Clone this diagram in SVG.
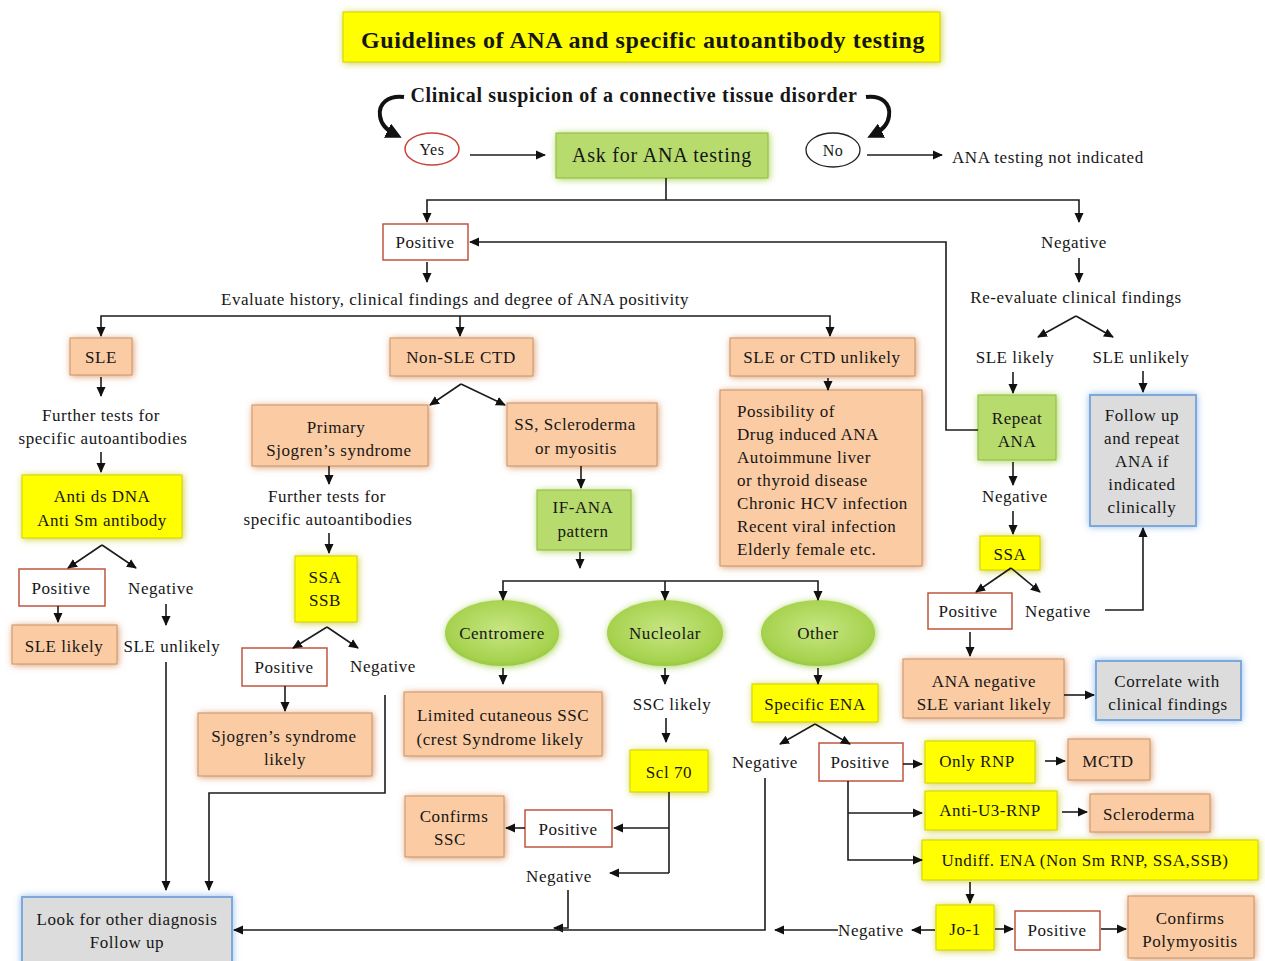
<svg xmlns="http://www.w3.org/2000/svg" width="1265" height="961" viewBox="0 0 1265 961">
<defs>
<style>
.t{font-family:"Liberation Serif","Times New Roman",serif;font-size:17px;fill:#161616;text-anchor:middle;letter-spacing:0.55px}
.l{text-anchor:start}
.or{fill:#FBCBA3;stroke:#C9936B;stroke-width:1;filter:url(#gO)}
.ye{fill:#FFFF00;stroke:#D2D200;stroke-width:1;filter:url(#gY)}
.gr{fill:#B7DB6C;stroke:#8DBB3C;stroke-width:1;filter:url(#gG)}
.gy{fill:#DCDCDC;stroke:#7FA8DA;stroke-width:2;filter:url(#gB)}
.pb{fill:#fff;stroke:#C0553F;stroke-width:1.5}
.el{fill:url(#eg);filter:url(#gG)}
.c{fill:none;stroke:#1c1c1c;stroke-width:1.6}
.a{marker-end:url(#ah)}
.cv{fill:none;stroke:#111;stroke-width:4;marker-end:url(#ahb)}
</style>
<marker id="ah" viewBox="0 0 10 10" refX="9" refY="5" markerWidth="10" markerHeight="10" markerUnits="userSpaceOnUse" orient="auto"><path d="M0,0.5 L10,5 L0,9.5 z" fill="#111"/></marker>
<marker id="ahb" viewBox="0 0 10 10" refX="6" refY="5" markerWidth="16" markerHeight="16" markerUnits="userSpaceOnUse" orient="auto"><path d="M0,0 L10,5 L0,10 z" fill="#111"/></marker>
<radialGradient id="eg" cx="50%" cy="45%" r="60%"><stop offset="0" stop-color="#C7E682"/><stop offset="0.8" stop-color="#A6D24E"/><stop offset="1" stop-color="#8EC23A"/></radialGradient>
<filter id="gO" x="-25%" y="-30%" width="150%" height="160%"><feGaussianBlur in="SourceAlpha" stdDeviation="3.5"/><feOffset dx="1" dy="1" result="b"/><feFlood flood-color="#D68A50" flood-opacity="0.85"/><feComposite in2="b" operator="in"/><feMerge><feMergeNode/><feMergeNode in="SourceGraphic"/></feMerge></filter>
<filter id="gY" x="-25%" y="-30%" width="150%" height="160%"><feGaussianBlur in="SourceAlpha" stdDeviation="3.5"/><feOffset dx="1" dy="1" result="b"/><feFlood flood-color="#C8C820" flood-opacity="0.85"/><feComposite in2="b" operator="in"/><feMerge><feMergeNode/><feMergeNode in="SourceGraphic"/></feMerge></filter>
<filter id="gG" x="-25%" y="-30%" width="150%" height="160%"><feGaussianBlur in="SourceAlpha" stdDeviation="3.5"/><feOffset dx="1" dy="1" result="b"/><feFlood flood-color="#9ACD3A" flood-opacity="0.85"/><feComposite in2="b" operator="in"/><feMerge><feMergeNode/><feMergeNode in="SourceGraphic"/></feMerge></filter>
<filter id="gB" x="-25%" y="-30%" width="150%" height="160%"><feGaussianBlur in="SourceAlpha" stdDeviation="3.5"/><feOffset dx="0" dy="0" result="b"/><feFlood flood-color="#86B4EA" flood-opacity="0.9"/><feComposite in2="b" operator="in"/><feMerge><feMergeNode/><feMergeNode in="SourceGraphic"/></feMerge></filter>
</defs>
<rect width="1265" height="961" fill="#fff"/>

<g id="title"><rect x="343" y="12" width="597" height="50" class="ye"/><text x="643" y="48" class="t" style="font-weight:bold;font-size:24px;letter-spacing:0.6px">Guidelines of ANA and specific autoantibody testing</text></g>
<g id="suspicion"><text x="634" y="102" class="t" style="font-weight:bold;font-size:20px;letter-spacing:0.7px">Clinical suspicion of a connective tissue disorder</text></g>
<g id="yes"><ellipse cx="432" cy="149" rx="27" ry="16" fill="#fff" stroke="#C9433A" stroke-width="1.5"/><text x="432" y="155" class="t" style="font-size:16px">Yes</text></g>
<g id="ask"><rect x="556" y="133" width="212" height="45" class="gr"/><text x="662" y="162" class="t" style="font-size:20px;letter-spacing:0.8px">Ask for ANA testing</text></g>
<g id="no"><ellipse cx="833" cy="150" rx="27" ry="17" fill="#fff" stroke="#222" stroke-width="1.3"/><text x="833" y="156" class="t" style="font-size:16px">No</text></g>
<g id="notind"><text x="952" y="163" class="t l">ANA testing  not indicated</text></g>

<g id="pos1"><rect x="383" y="224" width="85" height="36" class="pb"/><text x="425" y="248" class="t">Positive</text></g>
<g id="evaluate"><text x="455" y="305" class="t">Evaluate history, clinical findings and degree of ANA positivity</text></g>
<g id="sle"><rect x="70" y="338" width="62" height="37" class="or"/><text x="101" y="363" class="t">SLE</text></g>
<g id="nonsle"><rect x="390" y="338" width="143" height="38" class="or"/><text x="461" y="363" class="t">Non-SLE  CTD</text></g>
<g id="unlikely"><rect x="730" y="338" width="185" height="38" class="or"/><text x="822" y="363" class="t">SLE or CTD unlikely</text></g>

<g id="further1"><text x="101" y="421" class="t">Further tests for</text><text x="103" y="444" class="t">specific autoantibodies</text></g>
<g id="antids"><rect x="22" y="475" width="160" height="63" class="ye"/><text x="102" y="502" class="t">Anti ds DNA</text><text x="102" y="526" class="t">Anti Sm antibody</text></g>
<g id="pos2"><rect x="19" y="569" width="86" height="37" class="pb"/><text x="61" y="594" class="t">Positive</text></g>
<g id="neg2"><text x="161" y="594" class="t">Negative</text></g>
<g id="slelikely"><rect x="12" y="625" width="105" height="39" class="or"/><text x="64" y="652" class="t">SLE likely</text></g>
<g id="sleunlikely"><text x="172" y="652" class="t">SLE unlikely</text></g>

<g id="primary"><rect x="252" y="405" width="176" height="61" class="or"/><text x="336" y="433" class="t">Primary</text><text x="339" y="456" class="t">Sjogren’s syndrome</text></g>
<g id="further2"><text x="327" y="502" class="t">Further tests for</text><text x="328" y="525" class="t">specific autoantibodies</text></g>
<g id="ssassb"><rect x="295" y="556" width="62" height="66" class="ye"/><text x="325" y="583" class="t">SSA</text><text x="325" y="606" class="t">SSB</text></g>
<g id="pos3"><rect x="242" y="648" width="85" height="38" class="pb"/><text x="284" y="673" class="t">Positive</text></g>
<g id="neg3"><text x="383" y="672" class="t">Negative</text></g>
<g id="sjlikely"><rect x="198" y="713" width="174" height="63" class="or"/><text x="284" y="742" class="t">Sjogren’s syndrome</text><text x="285" y="765" class="t">likely</text></g>

<g id="ssscl"><rect x="507" y="403" width="150" height="63" class="or"/><text x="575" y="430" class="t">SS, Scleroderma</text><text x="576" y="454" class="t">or myositis</text></g>
<g id="ifana"><rect x="537" y="490" width="94" height="60" class="gr"/><text x="583" y="513" class="t">IF-ANA</text><text x="583" y="537" class="t">pattern</text></g>
<g id="centromere"><ellipse cx="502" cy="633" rx="57" ry="33" class="el"/><text x="502" y="639" class="t">Centromere</text></g>
<g id="nucleolar"><ellipse cx="665" cy="633" rx="58" ry="33" class="el"/><text x="665" y="639" class="t">Nucleolar</text></g>
<g id="other"><ellipse cx="818" cy="633" rx="57" ry="33" class="el"/><text x="818" y="639" class="t">Other</text></g>
<g id="limited"><rect x="404" y="692" width="198" height="64" class="or"/><text x="503" y="721" class="t">Limited cutaneous SSC</text><text x="500" y="745" class="t">(crest Syndrome likely</text></g>
<g id="ssclikely"><text x="672" y="710" class="t">SSC  likely</text></g>
<g id="scl70"><rect x="630" y="750" width="78" height="42" class="ye"/><text x="669" y="778" class="t">Scl 70</text></g>
<g id="pos4"><rect x="525" y="810" width="87" height="37" class="pb"/><text x="568" y="835" class="t">Positive</text></g>
<g id="confssc"><rect x="405" y="796" width="99" height="61" class="or"/><text x="454" y="822" class="t">Confirms</text><text x="450" y="845" class="t">SSC</text></g>
<g id="neg4"><text x="559" y="882" class="t">Negative</text></g>
<g id="lookfor"><rect x="22" y="897" width="210" height="70" class="gy"/><text x="127" y="925" class="t">Look for other diagnosis</text><text x="127" y="948" class="t">Follow up</text></g>

<g id="possibility"><rect x="720" y="390" width="202" height="176" class="or"/><text x="737" y="417" class="t l">Possibility of</text><text x="737" y="440" class="t l">Drug induced ANA</text><text x="737" y="463" class="t l">Autoimmune liver</text><text x="737" y="486" class="t l">or  thyroid disease</text><text x="737" y="509" class="t l">Chronic HCV infection</text><text x="737" y="532" class="t l">Recent viral infection</text><text x="737" y="555" class="t l">Elderly female etc.</text></g>

<g id="specena"><rect x="752" y="684" width="126" height="38" class="ye"/><text x="815" y="710" class="t">Specific ENA</text></g>
<g id="neg5"><text x="765" y="768" class="t">Negative</text></g>
<g id="pos5"><rect x="819" y="743" width="84" height="38" class="pb"/><text x="860" y="768" class="t">Positive</text></g>
<g id="onlyrnp"><rect x="925" y="741" width="110" height="42" class="ye"/><text x="977" y="767" class="t">Only RNP</text></g>
<g id="mctd"><rect x="1068" y="739" width="82" height="41" class="or"/><text x="1108" y="767" class="t">MCTD</text></g>
<g id="antiu3"><rect x="925" y="791" width="132" height="39" class="ye"/><text x="990" y="816" class="t">Anti-U3-RNP</text></g>
<g id="sclero"><rect x="1090" y="794" width="120" height="38" class="or"/><text x="1149" y="820" class="t">Scleroderma</text></g>
<g id="undiff"><rect x="922" y="840" width="336" height="40" class="ye"/><text x="1085" y="866" class="t">Undiff. ENA (Non Sm RNP, SSA,SSB)</text></g>
<g id="jo1"><rect x="936" y="905" width="58" height="45" class="ye"/><text x="965" y="935" class="t">Jo-1</text></g>
<g id="pos6"><rect x="1015" y="911" width="85" height="39" class="pb"/><text x="1057" y="936" class="t">Positive</text></g>
<g id="confpoly"><rect x="1128" y="896" width="126" height="62" class="or"/><text x="1190" y="924" class="t">Confirms</text><text x="1190" y="947" class="t">Polymyositis</text></g>
<g id="neg6"><text x="871" y="936" class="t">Negative</text></g>

<g id="neg1"><text x="1074" y="248" class="t">Negative</text></g>
<g id="reeval"><text x="1076" y="303" class="t">Re-evaluate clinical findings</text></g>
<g id="slelikely2"><text x="1015" y="363" class="t">SLE likely</text></g>
<g id="sleunlikely2"><text x="1141" y="363" class="t">SLE  unlikely</text></g>
<g id="repeat"><rect x="978" y="395" width="78" height="65" class="gr"/><text x="1017" y="424" class="t">Repeat</text><text x="1017" y="447" class="t">ANA</text></g>
<g id="followup"><rect x="1090" y="395" width="106" height="131" class="gy"/><text x="1142" y="421" class="t">Follow up</text><text x="1142" y="444" class="t">and repeat</text><text x="1142" y="467" class="t">ANA if</text><text x="1142" y="490" class="t">indicated</text><text x="1142" y="513" class="t">clinically</text></g>
<g id="neg7"><text x="1015" y="502" class="t">Negative</text></g>
<g id="ssa"><rect x="980" y="536" width="60" height="34" class="ye"/><text x="1010" y="560" class="t">SSA</text></g>
<g id="pos7"><rect x="928" y="593" width="84" height="36" class="pb"/><text x="968" y="617" class="t">Positive</text></g>
<g id="neg8"><text x="1058" y="617" class="t">Negative</text></g>
<g id="ananeg"><rect x="903" y="659" width="161" height="59" class="or"/><text x="984" y="687" class="t">ANA negative</text><text x="984" y="710" class="t">SLE variant likely</text></g>
<g id="correlate"><rect x="1096" y="661" width="145" height="59" class="gy"/><text x="1167" y="687" class="t">Correlate with</text><text x="1168" y="710" class="t">clinical findings</text></g>

<g id="connectors">
<path class="cv" d="M404,97 C388,95 378,104 380,116 C381,125 388,131 396,135"/>
<path class="cv" d="M866,97 C882,95 891,104 889,116 C888,125 881,131 873,135"/>
<path class="c a" d="M470,155 H545"/>
<path class="c a" d="M867,155 H942"/>
<path class="c" d="M666,178 V200"/>
<path class="c a" d="M666,200 H427 V222"/>
<path class="c a" d="M666,200 H1079 V222"/>
<path class="c a" d="M978,430 H946 V242 H470"/>
<path class="c a" d="M427,262 V282"/>
<path class="c a" d="M460,316 H101 V336"/>
<path class="c a" d="M460,316 V336"/>
<path class="c a" d="M460,316 H830 V336"/>
<path class="c a" d="M828,378 V390"/>
<path class="c a" d="M101,377 V396"/>
<path class="c a" d="M101,452 V472"/>
<path class="c a" d="M102,545 L68,568"/>
<path class="c a" d="M102,545 L136,568"/>
<path class="c a" d="M58,606 V622"/>
<path class="c a" d="M166,604 V625"/>
<path class="c a" d="M166,662 V890"/>
<path class="c a" d="M461,384 L430,405"/>
<path class="c a" d="M461,384 L505,405"/>
<path class="c a" d="M329,466 V484"/>
<path class="c a" d="M329,533 V553"/>
<path class="c a" d="M327,627 L293,648"/>
<path class="c a" d="M327,627 L358,648"/>
<path class="c a" d="M285,686 V711"/>
<path class="c a" d="M385,695 V793 H209 V890"/>
<path class="c a" d="M581,466 V488"/>
<path class="c a" d="M580,552 V568"/>
<path class="c a" d="M580,581 H503 V600"/>
<path class="c a" d="M580,581 H818 V600"/>
<path class="c a" d="M665,581 V600"/>
<path class="c a" d="M503,668 V684"/>
<path class="c a" d="M665,668 V684"/>
<path class="c a" d="M818,668 V684"/>
<path class="c a" d="M666,718 V742"/>
<path class="c" d="M669,792 V873"/>
<path class="c a" d="M669,828 H614"/>
<path class="c a" d="M669,873 H610"/>
<path class="c a" d="M525,828 H506"/>
<path class="c a" d="M568,890 V928 H554"/>
<path class="c a" d="M815,724 L780,744"/>
<path class="c a" d="M815,724 L850,744"/>
<path class="c a" d="M765,778 V930 H234"/>
<path class="c a" d="M903,764 H922"/>
<path class="c a" d="M1045,761 H1065"/>
<path class="c a" d="M848,781 V860 H922"/>
<path class="c a" d="M848,813 H922"/>
<path class="c a" d="M1062,812 H1087"/>
<path class="c a" d="M970,882 V903"/>
<path class="c a" d="M995,929 H1013"/>
<path class="c a" d="M1101,929 H1126"/>
<path class="c a" d="M935,930 H912"/>
<path class="c a" d="M838,930 H775"/>
<path class="c a" d="M1079,258 V282"/>
<path class="c a" d="M1076,316 L1038,337"/>
<path class="c a" d="M1076,316 L1113,337"/>
<path class="c a" d="M1013,372 V393"/>
<path class="c a" d="M1143,371 V392"/>
<path class="c a" d="M1013,462 V485"/>
<path class="c a" d="M1013,511 V534"/>
<path class="c a" d="M1011,568 L976,592"/>
<path class="c a" d="M1011,568 L1040,592"/>
<path class="c a" d="M1105,610 H1143 V528"/>
<path class="c a" d="M970,632 V656"/>
<path class="c a" d="M1064,695 H1094"/>
</g>
</svg>
